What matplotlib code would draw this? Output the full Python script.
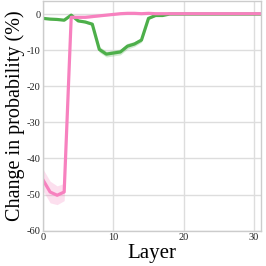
import matplotlib
matplotlib.use("Agg")
import matplotlib.pyplot as plt
import numpy as np

layers = list(range(32))
green = [-1.2, -1.4, -1.5, -1.7, -0.3, -1.9, -2.2, -2.8, -9.8, -11.1, -10.8, -10.5,
         -8.9, -8.3, -7.2, -1.2, -0.4, -0.4, 0.0, 0.0, 0.0, 0.0, 0.0, 0.0, 0.0, 0.0,
         0.0, 0.0, 0.0, 0.0, 0.0, 0.0]
green_err = [0.2, 0.2, 0.2, 0.2, 0.2, 0.2, 0.3, 0.4, 0.8, 0.8, 0.8, 0.8,
             0.8, 0.7, 0.6, 0.3, 0.2, 0.2, 0.1, 0.1, 0.1, 0.1, 0.1, 0.1, 0.1, 0.1,
             0.1, 0.1, 0.1, 0.1, 0.1, 0.1]
pink = [-46.0, -49.3, -50.2, -49.3, -0.9, -0.9, -0.9, -0.7, -0.5, -0.3, -0.1, 0.1,
        0.2, 0.2, 0.1, 0.2, 0.1, 0.1, 0.1, 0.1, 0.1, 0.1, 0.1, 0.1, 0.1, 0.1,
        0.1, 0.1, 0.1, 0.1, 0.1, 0.1]
pink_err = [3.0, 3.0, 2.6, 2.4, 0.3, 0.3, 0.3, 0.3, 0.2, 0.2, 0.2, 0.2,
            0.2, 0.2, 0.2, 0.2, 0.1, 0.1, 0.1, 0.1, 0.1, 0.1, 0.1, 0.1, 0.1, 0.1,
            0.1, 0.1, 0.1, 0.1, 0.1, 0.1]

plt.rcParams['font.family'] = ['Liberation Serif', 'DejaVu Serif']
plt.rcParams['axes.unicode_minus'] = False

fig = plt.figure(figsize=(2.66, 2.66), dpi=100)
ax = fig.add_axes([0.162, 0.133, 0.819, 0.863])

x = np.array(layers)
for vals, errs, col in [(green, green_err, '#4daf4a'), (pink, pink_err, '#f781bf')]:
    v = np.array(vals); e = np.array(errs)
    ax.fill_between(x, v - e, v + e, color=col, alpha=0.25, linewidth=0)
    ax.plot(x, v, color=col, linewidth=2.3)

ax.set_xlim(0, 31)
ax.set_ylim(-60, 3.6)
ax.set_xticks([0, 10, 20, 30])
ax.set_yticks([0, -10, -20, -30, -40, -50, -60])
ax.grid(True, color='#dddddd', linewidth=1)
ax.set_axisbelow(True)
for s in ax.spines.values():
    s.set_color('#cccccc')
    s.set_linewidth(1)
ax.tick_params(length=0, labelsize=7.5, pad=2, colors='#222222')
ax.set_xlabel('Layer', fontsize=15, labelpad=1)
ax.set_ylabel('Change in probability (%)', fontsize=14.5, labelpad=1)

fig.savefig('out.png', dpi=100)
